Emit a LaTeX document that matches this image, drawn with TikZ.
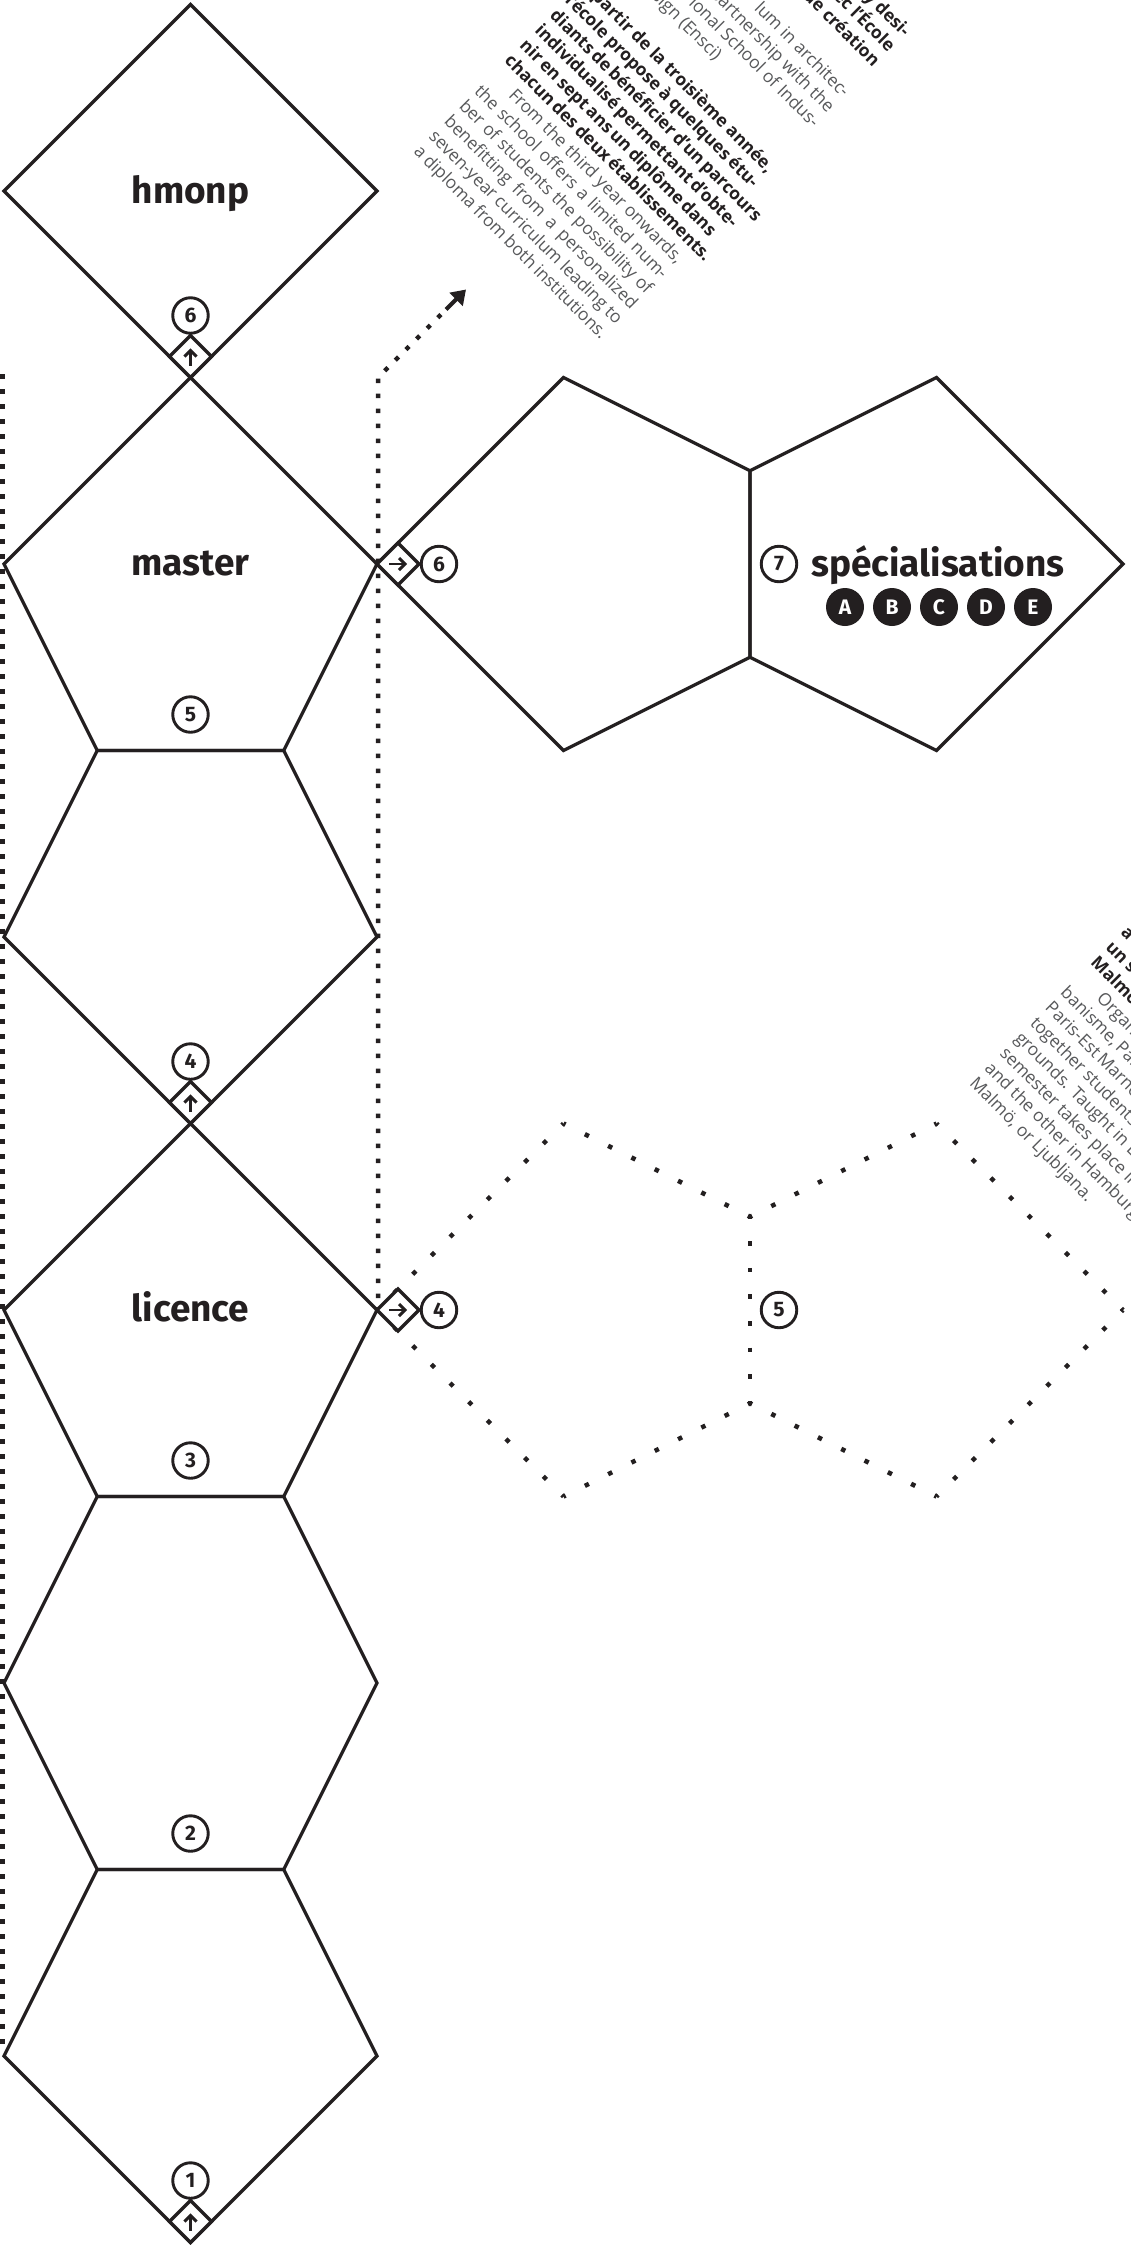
\documentclass[tikz,border=0pt]{standalone}
\usepackage{fontspec}
\setmainfont{Open Sans}
\newfontfamily\labelfont{Fira Sans}
\usetikzlibrary{calc,arrows.meta}
\definecolor{ink}{HTML}{231F20}
\definecolor{engl}{HTML}{58595B}
\newlength{\blockw}
\setlength{\blockw}{265pt}
\newcommand\LineJ[1]{\hbox to \blockw{#1}}
\newcommand\LineR[1]{\hbox to \blockw{\hfil #1}}
\newcommand\LineL[1]{\hbox to \blockw{#1\hfil}}
\newcommand\FrTxt{\bfseries\color{ink}}
\newcommand\EnTxt{\mdseries\color{engl}}
\tikzset{
  shp/.style={draw=ink, line width=3.3pt, line join=miter},
  numc/.style={circle, draw=ink, line width=2.9pt, minimum size=35.5pt, inner sep=0pt, fill=white,
    text=ink, font=\labelfont\bfseries\fontsize{21}{21}\selectfont},
  letc/.style={circle, fill=ink, minimum size=38pt, inner sep=0pt, text=white,
    font=\labelfont\bfseries\fontsize{21}{21}\selectfont},
  lab/.style={font=\labelfont\bfseries\fontsize{37}{42}\selectfont, text=ink, inner sep=0pt, anchor=base},
  dotv/.style={draw=ink, line width=4.5pt, dash pattern=on 4.5pt off 10.5pt},
  arrowstroke/.style={draw=ink, line width=2.9pt, line join=miter},
}
\newcommand\dotseg[3]{\draw[ink, line width=4.5pt, dash pattern=on 4.5pt off #3pt, dash phase=2.25pt] (#1) -- (#2);}
\newcommand\vmark[4]{%
  \filldraw[shp, fill=white] (#1,#2) -- ++(-21,-21) -- ++(21,-21) -- ++(21,21) -- cycle;
  \draw[arrowstroke] (#1,#2-12) -- (#1,#2-27);
  \draw[arrowstroke] (#1-6,#2-21) -- (#1,#2-27) -- (#1+6,#2-21);
  \node[numc] (#4) at (#1,#2-62) {#3};}
\newcommand\hmark[4]{%
  \filldraw[shp, fill=white] (#1,#2) -- ++(21,-21) -- ++(21,21) -- ++(-21,21) -- cycle;
  \draw[arrowstroke] (#1+12,#2) -- (#1+28,#2);
  \draw[arrowstroke] (#1+22,#2-6) -- (#1+28,#2) -- (#1+22,#2+6);
  \node[numc] (#4) at (#1+62,#2) {#3};}
\begin{document}
\begin{tikzpicture}[x=1pt,y=-1pt]
\useasboundingbox (0,0) rectangle (1131,2246);
\fill[white] (0,0) rectangle (1131,2246);
\clip (0,0) rectangle (1131,2246);
\foreach \i in {0,...,12}{\foreach \j in {0,...,24}{\coordinate (g\i-\j) at ({4+93.25*\i},{4.5+93.25*\j});}}

% dotted guide lines
\coordinate (lt) at (2.5,374); \coordinate (lb) at (2.5,2045);
\draw[dotv] (lt) -- (lb);
\coordinate (rb) at (378,1298); \coordinate (rt) at (378,377.5);
\coordinate (ab) at (446,309.5); \coordinate (at) at (466,289.5);
\draw[dotv] (rb) -- (rt) -- (ab);
\draw[ink, line width=4pt, -{Triangle[length=14pt,width=18pt]}] (ab) -- (at);

% dotted pair of pentagons
\dotseg{g4-14}{g6-12}{21.875}
\dotseg{g6-12}{g8-13}{21.56}
\dotseg{g8-13}{g10-12}{21.56}
\dotseg{g10-12}{g12-14}{21.875}
\dotseg{g12-14}{g10-16}{21.875}
\dotseg{g10-16}{g8-15}{21.56}
\dotseg{g8-15}{g6-16}{21.56}
\dotseg{g6-16}{g4-14}{21.875}
\dotseg{g8-13}{g8-15}{22.14}

% main column
\draw[shp] (g2-0) -- (g4-2) -- (g2-4) -- (g0-2) -- cycle;
\draw[shp] (g2-4) -- (g4-6) -- (g3-8) -- (g1-8) -- (g0-6) -- cycle;
\draw[shp] (g1-8) -- (g3-8) -- (g4-10) -- (g2-12) -- (g0-10) -- cycle;
\draw[shp] (g2-12) -- (g4-14) -- (g3-16) -- (g1-16) -- (g0-14) -- cycle;
\draw[shp] (g1-16) -- (g3-16) -- (g4-18) -- (g3-20) -- (g1-20) -- (g0-18) -- cycle;
\draw[shp] (g1-20) -- (g3-20) -- (g4-22) -- (g2-24) -- (g0-22) -- cycle;
% right pair
\draw[shp] (g4-6) -- (g6-4) -- (g8-5) -- (g8-7) -- (g6-8) -- cycle;
\draw[shp] (g8-5) -- (g10-4) -- (g12-6) -- (g10-8) -- (g8-7) -- cycle;

% labels
\node[lab] (hmonp) at (190.5,203) {hmonp};
\node[lab] (master) at (190.5,575) {master};
\node[lab] (licence) at (190.5,1321) {licence};
\node[lab] (spec) at (938,576) {spécialisations};
\foreach \l/\x in {A/845,B/892,C/939,D/986,E/1033}{\node[letc] (spec\l) at (\x,607) {\l};}

% markers
\vmark{190.5}{377.5}{6}{n6v}
\vmark{190.5}{1123.5}{4}{n4v}
\vmark{190.5}{2242.5}{1}{n1}
\hmark{377}{564}{6}{n6h}
\hmark{377}{1310}{4}{n4h}
\node[numc] (n5) at (190.5,714.5) {5};
\node[numc] (n3) at (190.5,1460.5) {3};
\node[numc] (n2) at (190.5,1833.5) {2};
\node[numc] (n7) at (779,564) {7};
\node[numc] (n5h) at (779,1310) {5};

% rotated text, top
\node[rotate=-45, anchor=base west, inner sep=0pt, outer sep=0pt] (toptext) at (413,152.7) {\vbox{\fontsize{17.5}{21.4}\selectfont\lineskiplimit=-100pt\lineskip=0pt
\LineR{\FrTxt y desi-}
\LineR{\FrTxt ec l'École}
\LineR{\FrTxt de création}
\LineL{}
\LineR{\EnTxt lum in architec-}
\LineR{\EnTxt partnership with the}
\LineR{\EnTxt ional School of Indus-}
\LineL{\EnTxt trial Design (Ensci)}
\LineL{}
\LineJ{\FrTxt À partir de la troisième année,}
\LineJ{\FrTxt l'école propose à quelques étu-}
\LineJ{\FrTxt diants de bénéficier d'un parcours}
\LineJ{\FrTxt individualisé permettant d'obte-}
\LineJ{\FrTxt nir en sept ans un diplôme dans}
\LineL{\FrTxt chacun des deux établissements.}
\LineJ{\EnTxt\hskip27pt From the third year onwards,}
\LineJ{\EnTxt the school offers a limited num-}
\LineJ{\EnTxt ber of students the possibility of}
\LineJ{\EnTxt benefitting from a personalized}
\LineJ{\EnTxt seven-year curriculum leading to}
\LineL{\EnTxt a diploma from both institutions.}
}};

% rotated text, right
\node[rotate=-45, anchor=base west, inner sep=0pt, outer sep=0pt] (righttext) at (968.8,1084.6) {\vbox{\fontsize{17.5}{21.4}\selectfont\lineskiplimit=-100pt\lineskip=0pt
\LineL{\FrTxt a lieu à Paris et l'autre}
\LineL{\FrTxt un second à Hambourg,}
\LineL{\FrTxt Malmö ou Ljubljana.}
\LineL{\EnTxt\hskip30pt Organized by the École d'ur-}
\LineL{\EnTxt banisme, Paris and the Université}
\LineL{\EnTxt Paris-Est Marne-la-Vallée, it brings}
\LineL{\EnTxt together students from different}
\LineL{\EnTxt grounds. Taught in English, one}
\LineL{\EnTxt semester takes place in Paris}
\LineL{\EnTxt and the other in Hamburg,}
\LineL{\EnTxt Malmö, or Ljubljana.}
}};
\end{tikzpicture}
\end{document}
